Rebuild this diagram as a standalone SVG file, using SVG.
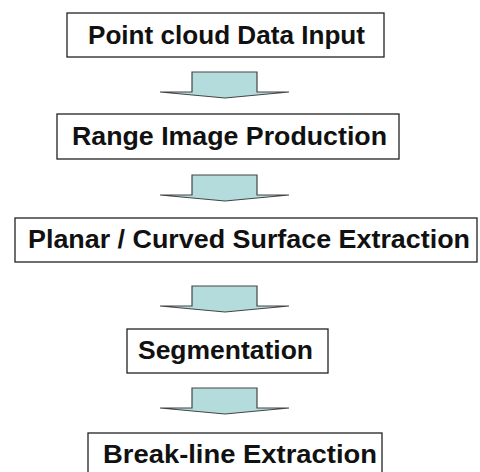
<svg xmlns="http://www.w3.org/2000/svg" width="480" height="472" viewBox="0 0 480 472">
<style>
.box{fill:#ffffff;stroke:#222;stroke-width:1.3}
.lbl{font-family:"Liberation Sans",Arial,sans-serif;font-weight:bold;font-size:25.5px;fill:#111;text-anchor:middle}
.arr{fill:#b4dcdc;stroke:#444;stroke-width:1.2;stroke-linejoin:miter}
</style>
<defs>
<polygon id="arrow" class="arr" points="192,0 257,0 257,20 289,20 225,26 160,20 192,20"/>
</defs>
<rect width="480" height="472" fill="#ffffff"/>
<g id="connectors">
<use href="#arrow" transform="translate(0,72)"/>
<use href="#arrow" transform="translate(0,175)"/>
<use href="#arrow" transform="translate(0,286)"/>
<use href="#arrow" transform="translate(0,388)"/>
</g>
<g id="n1"><rect class="box" x="67" y="13" width="317" height="44"/><text class="lbl" x="226.5" y="44" textLength="277" lengthAdjust="spacingAndGlyphs">Point cloud Data Input</text></g>
<g id="n2"><rect class="box" x="57" y="114" width="342" height="45"/><text class="lbl" x="229.5" y="145" textLength="315" lengthAdjust="spacingAndGlyphs">Range Image Production</text></g>
<g id="n3"><rect class="box" x="15" y="218" width="462" height="44"/><text class="lbl" x="249" y="248" textLength="442" lengthAdjust="spacingAndGlyphs">Planar / Curved Surface Extraction</text></g>
<g id="n4"><rect class="box" x="127" y="329" width="201" height="44"/><text class="lbl" x="225.5" y="359" textLength="175" lengthAdjust="spacingAndGlyphs">Segmentation</text></g>
<g id="n5"><rect class="box" x="88" y="433" width="294" height="44"/><text class="lbl" x="240" y="463" textLength="274" lengthAdjust="spacingAndGlyphs">Break-line Extraction</text></g>
</svg>
